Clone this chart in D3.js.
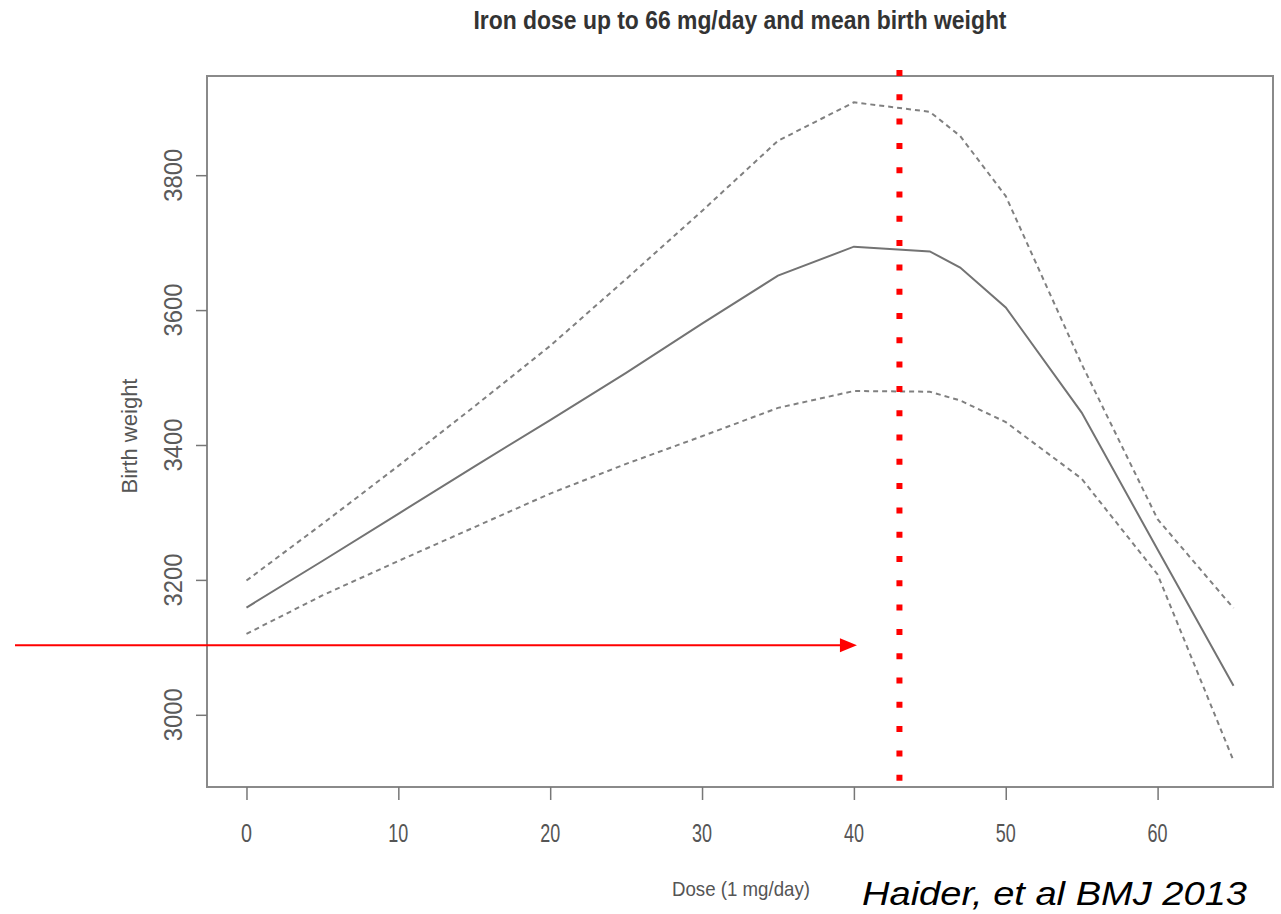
<!DOCTYPE html>
<html>
<head>
<meta charset="utf-8">
<script src="https://cdn.jsdelivr.net/npm/d3@7"></script>
<style>
  body { margin: 0; background: #fff; }
  svg text { font-family: "Liberation Sans", Arial, sans-serif; }
</style>
</head>
<body>
<div id="chart"></div>
<script>
// dose in mg/day, birth weight in grams
var dose    = [0, 5, 10, 15, 20, 25, 30, 35, 40, 45, 47, 50, 55, 60, 65];
var meanBW  = [3159, 3228, 3298, 3368, 3437, 3507, 3580, 3651, 3694, 3687, 3663, 3604, 3448, 3245, 3043];
var upperCI = [3199, 3283, 3369, 3457, 3547, 3646, 3747, 3851, 3908, 3894, 3858, 3769, 3520, 3290, 3158];
var lowerCI = [3120, 3177, 3228, 3278, 3328, 3372, 3413, 3455, 3480, 3479, 3466, 3434, 3350, 3208, 2932];

var xTicks = [0, 10, 20, 30, 40, 50, 60];
var yTicks = [3000, 3200, 3400, 3600, 3800];

var titleText = "Iron dose up to 66 mg/day and mean birth weight";
var xLabel = "Dose (1 mg/day)";
var yLabel = "Birth weight";
var citeText = "Haider, et al BMJ 2013";

// annotations (data units)
var markerDose = 43;
var arrowBW = 3103;
var arrowTipDose = 40.2;

var width = 1281, height = 914;
var box = {left: 207, right: 1273, top: 76, bottom: 787};

var svg = d3.select("#chart")
  .append("svg")
  .attr("width", width)
  .attr("height", height);

// R style axis extension (4%)
var xExt = (d3.max(dose) - d3.min(dose)) * 0.04;
var yMin = d3.min(lowerCI), yMax = d3.max(upperCI);
var yExt = (yMax - yMin) * 0.04;

var x = d3.scaleLinear()
  .domain([d3.min(dose) - xExt, d3.max(dose) + xExt])
  .range([box.left, box.right]);

var y = d3.scaleLinear()
  .domain([yMin - yExt, yMax + yExt])
  .range([box.bottom, box.top]);

// title
svg.append("text")
  .attr("x", 740).attr("y", 29)
  .attr("text-anchor", "middle")
  .attr("font-size", 26).attr("font-weight", "bold")
  .attr("fill", "#333")
  .attr("textLength", 533).attr("lengthAdjust", "spacingAndGlyphs")
  .text(titleText);

// frame
svg.append("rect")
  .attr("x", box.left).attr("y", box.top)
  .attr("width", box.right - box.left)
  .attr("height", box.bottom - box.top)
  .attr("fill", "none")
  .attr("stroke", "#8a8a8a")
  .attr("stroke-width", 2);

// x axis
var xAxis = svg.append("g")
  .attr("transform", "translate(0," + box.bottom + ")")
  .call(d3.axisBottom(x).tickValues(xTicks).tickSize(13).tickFormat(""));
xAxis.select(".domain").remove();
xAxis.selectAll("line").attr("stroke", "#777").attr("stroke-width", 1.5);

svg.selectAll(".xlab")
  .data(xTicks)
  .enter().append("text")
  .attr("class", "xlab")
  .attr("x", d => x(d)).attr("y", 842)
  .attr("text-anchor", "middle")
  .attr("font-size", 25).attr("fill", "#555")
  .attr("textLength", d => String(d).length == 1 ? 11 : 20)
  .attr("lengthAdjust", "spacingAndGlyphs")
  .text(d => d);

// y axis
var yAxis = svg.append("g")
  .attr("transform", "translate(" + box.left + ",0)")
  .call(d3.axisLeft(y).tickValues(yTicks).tickSize(11).tickFormat(""));
yAxis.select(".domain").remove();
yAxis.selectAll("line").attr("stroke", "#777").attr("stroke-width", 1.5);

svg.selectAll(".ylab")
  .data(yTicks)
  .enter().append("text")
  .attr("class", "ylab")
  .attr("transform", d => "translate(182," + y(d) + ") rotate(-90)")
  .attr("text-anchor", "middle")
  .attr("font-size", 25).attr("fill", "#5a5a5a")
  .attr("textLength", 53).attr("lengthAdjust", "spacingAndGlyphs")
  .text(d => d);

// axis titles
svg.append("text")
  .attr("x", 741).attr("y", 896)
  .attr("text-anchor", "middle")
  .attr("font-size", 21).attr("fill", "#555")
  .attr("textLength", 138).attr("lengthAdjust", "spacingAndGlyphs")
  .text(xLabel);

svg.append("text")
  .attr("transform", "translate(137,436) rotate(-90)")
  .attr("text-anchor", "middle")
  .attr("font-size", 22).attr("fill", "#555")
  .attr("textLength", 115).attr("lengthAdjust", "spacingAndGlyphs")
  .text(yLabel);

// curves
function series(vals) {
  return dose.map((d, i) => ({dose: d, bw: vals[i]}));
}
var line = d3.line().x(d => x(d.dose)).y(d => y(d.bw));

svg.append("path")
  .datum(series(upperCI))
  .attr("d", line)
  .attr("fill", "none").attr("stroke", "#808080")
  .attr("stroke-width", 2).attr("stroke-dasharray", "5,4");

svg.append("path")
  .datum(series(lowerCI))
  .attr("d", line)
  .attr("fill", "none").attr("stroke", "#808080")
  .attr("stroke-width", 2).attr("stroke-dasharray", "5,4");

svg.append("path")
  .datum(series(meanBW))
  .attr("d", line)
  .attr("fill", "none").attr("stroke", "#737373")
  .attr("stroke-width", 2);

// red dotted marker at 43 mg
svg.append("line")
  .attr("x1", x(markerDose)).attr("x2", x(markerDose))
  .attr("y1", 70).attr("y2", box.bottom)
  .attr("stroke", "#ff0000")
  .attr("stroke-width", 6)
  .attr("stroke-dasharray", "6,18.3");

// red arrow
var tipX = x(arrowTipDose), ay = y(arrowBW);
svg.append("line")
  .attr("x1", 15).attr("x2", tipX - 12)
  .attr("y1", ay).attr("y2", ay)
  .attr("stroke", "#ff0000").attr("stroke-width", 2);
svg.append("path")
  .attr("d", "M" + tipX + "," + ay + " L" + (tipX - 17) + "," + (ay - 7) +
             " L" + (tipX - 17) + "," + (ay + 7) + " Z")
  .attr("fill", "#ff0000");

// citation
svg.append("text")
  .attr("x", 862).attr("y", 905)
  .attr("font-size", 33).attr("font-style", "italic")
  .attr("fill", "#000")
  .attr("textLength", 385).attr("lengthAdjust", "spacingAndGlyphs")
  .text(citeText);
</script>
</body>
</html>
